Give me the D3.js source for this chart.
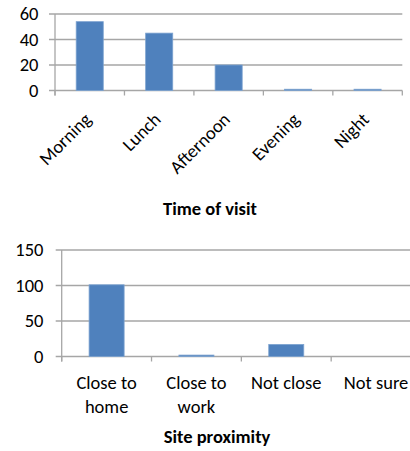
<!DOCTYPE html>
<html>
<head>
<meta charset="utf-8">
<script src="https://cdn.jsdelivr.net/npm/d3@7"></script>
<style>
  html, body { margin: 0; padding: 0; background: #fff; }
  svg { display: block; }
  text { font-family: Carlito, Calibri, Lato, sans-serif; fill: #000; }
</style>
</head>
<body>
<svg id="chart" width="410" height="451"></svg>
<script>
// Survey answers: when people visit, and how close the site is to them
const timeCategories = ["Morning", "Lunch", "Afternoon", "Evening", "Night"];
const timeValues = [54, 45, 20, 1, 1];
const timeTicks = [0, 20, 40, 60];

const proximityCategories = ["Close to home", "Close to work", "Not close", "Not sure"];
const proximityLabelLines = [["Close to", "home"], ["Close to", "work"], ["Not close"], ["Not sure"]];
const proximityValues = [101, 2, 17, 0];
const proximityTicks = [0, 50, 100, 150];

const svg = d3.select("#chart");
const gridColor = "#a6a6a6";
const barFill = "#4f81bd";
const barStroke = "#7da3d0";
const fontSize = 18.5;

function drawPanel(opts) {
  const g = svg.append("g");
  const x = d3.scaleBand().domain(opts.categories).range([opts.left, opts.right]).padding(0);
  const y = d3.scaleLinear().domain([0, opts.max]).range([opts.bottom, opts.top]);
  const gridRight = opts.gridRight;

  // horizontal gridlines with outside tick marks on the value axis
  g.selectAll("line.grid").data(opts.ticks).join("line")
    .attr("x1", opts.left - 6).attr("x2", gridRight)
    .attr("y1", d => y(d)).attr("y2", d => y(d))
    .attr("stroke", gridColor).attr("stroke-width", 1.3);

  // value axis line
  g.append("line")
    .attr("x1", opts.left).attr("x2", opts.left)
    .attr("y1", y(opts.max)).attr("y2", opts.bottom + 5)
    .attr("stroke", gridColor).attr("stroke-width", 1.3);

  // category tick marks between bands
  const bounds = opts.categories.map(c => x(c)).concat([opts.right]).filter(v => v <= gridRight + 0.5);
  g.selectAll("line.ctick").data(bounds).join("line")
    .attr("x1", d => d).attr("x2", d => d)
    .attr("y1", opts.bottom).attr("y2", opts.bottom + 5)
    .attr("stroke", gridColor).attr("stroke-width", 1.3);

  // value tick labels
  g.selectAll("text.ytick").data(opts.ticks).join("text")
    .attr("x", opts.labelRight).attr("y", d => y(d))
    .attr("dy", "0.35em").attr("text-anchor", "end")
    .attr("font-size", fontSize)
    .text(d => d);

  // bars
  const bw = x.bandwidth() * 0.39;
  g.selectAll("rect.bar").data(opts.values).join("rect")
    .attr("x", (d, i) => x(opts.categories[i]) + (x.bandwidth() - bw) / 2)
    .attr("width", bw)
    .attr("y", d => y(d))
    .attr("height", d => opts.bottom - y(d))
    .attr("fill", barFill)
    .attr("stroke", d => d > 0 ? barStroke : "none")
    .attr("stroke-width", 0.8);

  return { g, x, y };
}

// Time of visit
const p1 = drawPanel({
  categories: timeCategories, values: timeValues, ticks: timeTicks, max: 60,
  left: 55, right: 402.3, gridRight: 402.3, top: 14, bottom: 90.5, labelRight: 38.5
});
p1.g.selectAll("text.cat").data(timeCategories).join("text")
  .attr("transform", d => `translate(${p1.x(d) + p1.x.bandwidth() / 2 - 2},116) rotate(-45)`)
  .attr("text-anchor", "end").attr("dy", "0.35em")
  .attr("font-size", fontSize)
  .text(d => d);
p1.g.append("text")
  .attr("x", 210).attr("y", 215)
  .attr("text-anchor", "middle").attr("font-size", fontSize).attr("font-weight", "bold")
  .text("Time of visit");

// Site proximity (plot continues past the right edge)
const p2 = drawPanel({
  categories: proximityCategories, values: proximityValues, ticks: proximityTicks, max: 150,
  left: 61.7, right: 421, gridRight: 412, top: 250, bottom: 356.5, labelRight: 43.5
});
const catText = p2.g.selectAll("text.cat").data(proximityCategories).join("text")
  .attr("text-anchor", "middle").attr("font-size", fontSize);
catText.selectAll("tspan").data((d, i) => proximityLabelLines[i].map(t => ({ t, c: d }))).join("tspan")
  .attr("x", d => p2.x(d.c) + p2.x.bandwidth() / 2)
  .attr("y", (d, j) => 389 + j * 24)
  .text(d => d.t);
p2.g.append("text")
  .attr("x", 217).attr("y", 443)
  .attr("text-anchor", "middle").attr("font-size", fontSize).attr("font-weight", "bold")
  .text("Site proximity");
</script>
</body>
</html>
